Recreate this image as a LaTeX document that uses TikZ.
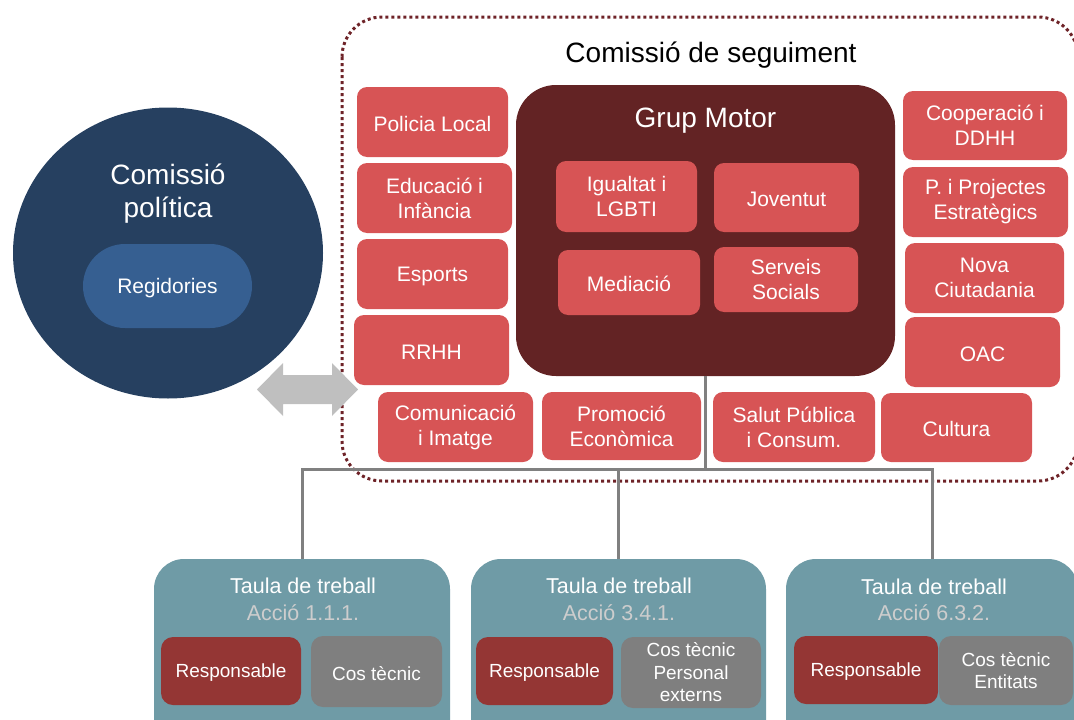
\documentclass[tikz,border=0pt]{standalone}
\usepackage{fontspec}
\setmainfont{Liberation Sans}
\usetikzlibrary{shapes.geometric}

\definecolor{navy}{RGB}{38,64,96}
\definecolor{pillblue}{RGB}{54,95,145}
\definecolor{boxred}{RGB}{215,84,85}
\definecolor{motor}{RGB}{99,35,36}
\definecolor{teal}{RGB}{111,155,166}
\definecolor{respred}{RGB}{148,54,52}
\definecolor{techgray}{RGB}{127,127,127}
\definecolor{accgray}{RGB}{205,205,205}
\definecolor{linegray}{RGB}{128,128,128}
\definecolor{dotred}{RGB}{110,35,40}
\definecolor{arrowgray}{RGB}{191,191,191}

\tikzset{
  % a strut gives every first text line the same ascent
  base/.style={inner sep=0pt, outer sep=0pt, align=center, text=white,
    execute at begin node={\rule{0pt}{0.905em}}},
  redbox/.style={base, fill=boxred, rounded corners=10pt,
    font=\fontsize{21}{25}\selectfont},
  taula/.style={inner sep=0pt, outer sep=0pt, fill=teal, rounded corners=30pt},
  taulatitle/.style={base, font=\fontsize{21.5}{26.5}\selectfont},
  resp/.style={base, fill=respred, rounded corners=12pt,
    font=\fontsize{19}{22.5}\selectfont},
  tech/.style={base, fill=techgray, rounded corners=12pt,
    font=\fontsize{19}{22.5}\selectfont},
  conn/.style={draw=linegray, line width=3pt},
}

\begin{document}
\begin{tikzpicture}[x=1pt,y=-1pt]
\useasboundingbox (0,0) rectangle (1074,720);
\clip (0,0) rectangle (1074,720);

% Comissió de seguiment: dotted frame and heading
\draw[dotred, line width=3pt, dash pattern=on 3pt off 3pt, rounded corners=40pt]
  (342,17) rectangle (1078,481);
\node[base, text=black, font=\fontsize{28}{32}\selectfont] (seg) at (711,53) {Comissió de seguiment};

% Comissió política
\node[inner sep=0pt, outer sep=0pt, ellipse, fill=navy, minimum width=310pt, minimum height=291pt] (pol) at (168,253) {};
\node[base, font=\fontsize{28}{33}\selectfont] (poltitle) at (168,193.5) {Comissió\\política};
\node[base, fill=pillblue, rounded corners=42pt, minimum width=169pt, minimum height=84pt,
  font=\fontsize{21}{25}\selectfont] (reg) at (167.5,286) {Regidories};

% Two-way link between the two commissions
\fill[arrowgray] (257,389.5) -- (283,363) -- (283,375) -- (332,375) -- (332,363)
  -- (358,389.5) -- (332,416) -- (332,404) -- (283,404) -- (283,416) -- cycle;

% Grup Motor
\node[inner sep=0pt, outer sep=0pt, fill=motor, rounded corners=40pt, minimum width=379pt, minimum height=291pt] (gm) at (705.5,230.5) {};
\node[base, font=\fontsize{28}{32}\selectfont] (gmtitle) at (705.5,118) {Grup Motor};
\node[redbox, minimum width=141pt, minimum height=71pt] (igu) at (626.5,196.5) {Igualtat i\\LGBTI};
\node[redbox, minimum width=142pt, minimum height=65pt] (med) at (629,282.5) {Mediació};
\node[redbox, minimum width=145pt, minimum height=69pt] (jov) at (786.5,197.5) {Joventut};
\node[redbox, minimum width=144pt, minimum height=65pt] (ser) at (786,279.5) {Serveis\\Socials};

% Left column
\node[redbox, minimum width=151pt, minimum height=70pt] (pl) at (432.5,122) {Policia Local};
\node[redbox, minimum width=155pt, minimum height=70pt] (edu) at (434.5,198) {Educació i\\Infància};
\node[redbox, minimum width=151pt, minimum height=70pt] (esp) at (432.5,274) {Esports};
\node[redbox, minimum width=155pt, minimum height=70pt] (rrhh) at (431.5,350) {RRHH};

% Bottom row
\node[redbox, minimum width=155pt, minimum height=70pt] (com) at (455.5,427) {Comunicació\\i Imatge};
\node[redbox, minimum width=159pt, minimum height=68pt] (pro) at (621.5,426) {Promoció\\Econòmica};
\node[redbox, minimum width=162pt, minimum height=70pt] (sal) at (794,427) {Salut Pública\\i Consum.};
\node[redbox, minimum width=151pt, minimum height=69pt] (cul) at (956.5,427.5) {Cultura};

% Right column
\node[redbox, minimum width=164pt, minimum height=69pt] (coo) at (985,125.5) {Cooperació i\\DDHH};
\node[redbox, minimum width=165pt, minimum height=70pt] (pie) at (985.5,202) {P. i Projectes\\Estratègics};
\node[redbox, minimum width=159pt, minimum height=70pt] (nov) at (984.5,278) {Nova\\Ciutadania};
\node[redbox, minimum width=155pt, minimum height=70pt] (oac) at (982.5,352) {OAC};

% Taules de treball
\node[taula, minimum width=296pt, minimum height=201pt] (t1) at (302,659.5) {};
\node[taula, minimum width=295pt, minimum height=201pt] (t2) at (618.5,659.5) {};
\node[taula, minimum width=292pt, minimum height=201pt] (t3) at (932,659.5) {};

\node[taulatitle] (t1title) at (303,599.5) {Taula de treball\\\textcolor{accgray}{Acció 1.1.1.}};
\node[taulatitle] (t2title) at (619,599.5) {Taula de treball\\\textcolor{accgray}{Acció 3.4.1.}};
\node[taulatitle] (t3title) at (934,600) {Taula de treball\\\textcolor{accgray}{Acció 6.3.2.}};

\node[resp, minimum width=140pt, minimum height=68pt] (r1) at (231,671) {Responsable};
\node[tech, minimum width=131pt, minimum height=71pt] (c1) at (376.5,671.5) {Cos tècnic};
\node[resp, minimum width=137pt, minimum height=68pt] (r2) at (544.5,671) {Responsable};
\node[tech, minimum width=140pt, minimum height=71pt] (c2) at (691,672.5) {Cos tècnic\\Personal\\externs};
\node[resp, minimum width=144pt, minimum height=68pt] (r3) at (866,670) {Responsable};
\node[tech, minimum width=134pt, minimum height=69pt] (c3) at (1006,670.5) {Cos tècnic\\Entitats};

% Connectors from Grup Motor to the working tables
\coordinate (hub) at (705.5,469);
\draw[conn] (gm.south) -- (hub);
\draw[conn] (t1.north) |- (hub) -| (t3.north);
\draw[conn] (hub -| t2.north) -- (t2.north);
\end{tikzpicture}
\end{document}
